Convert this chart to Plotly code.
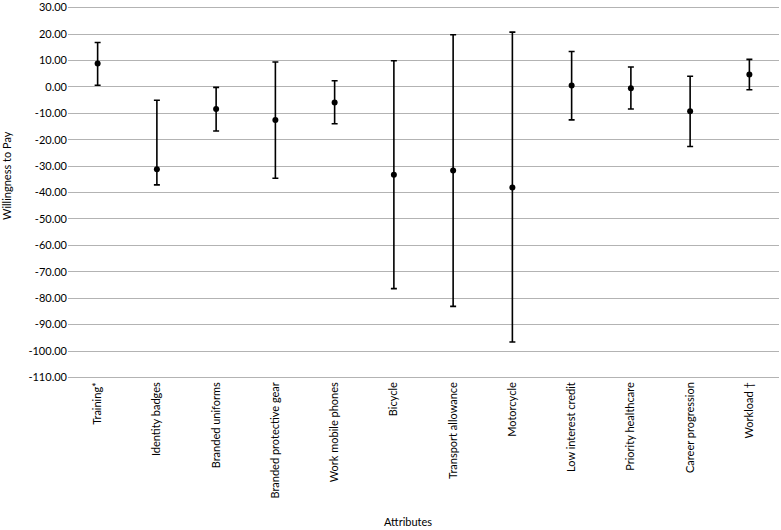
import plotly.graph_objects as go

attributes = ["Training*", "Identity badges", "Branded uniforms", "Branded protective gear",
              "Work mobile phones", "Bicycle", "Transport allowance", "Motorcycle",
              "Low interest credit", "Priority healthcare", "Career progression", "Workload \u2020"]
wtp = [8.8, -31.2, -8.4, -12.6, -5.9, -33.3, -31.7, -38.1, 0.5, -0.5, -9.2, 4.7]
upper = [16.8, -5.1, -0.2, 9.4, 2.3, 9.9, 19.7, 20.7, 13.4, 7.5, 4.0, 10.4]
lower = [0.6, -37.1, -16.7, -34.6, -14.0, -76.4, -83.1, -96.6, -12.5, -8.4, -22.6, -1.1]
y_ticks = list(range(-110, 31, 10))

err_plus = [u - v for u, v in zip(upper, wtp)]
err_minus = [v - l for v, l in zip(wtp, lower)]

font_family = "Lato, Open Sans, sans-serif"
fs = 11

fig = go.Figure(go.Scatter(
    x=attributes, y=wtp, mode="markers",
    marker=dict(color="black", size=6),
    error_y=dict(type="data", symmetric=False, array=err_plus, arrayminus=err_minus,
                 color="black", thickness=1.6, width=3),
    showlegend=False,
))

fig.update_layout(
    width=781, height=530,
    margin=dict(l=68, r=2, t=6, b=151, autoexpand=False),
    paper_bgcolor="white", plot_bgcolor="white",
    font=dict(family=font_family, size=fs, color="black"),
    xaxis=dict(tickangle=-90, showgrid=False, showline=False, ticks="", automargin=False,
               tickfont=dict(size=fs, color="black"), range=[-0.5, 11.5]),
    yaxis=dict(range=[-110.6, 30.6], tickvals=y_ticks, ticktext=[f"{v:.2f}" for v in y_ticks],
               automargin=False, ticklabeloverflow="allow",
               showgrid=True, gridcolor="#b3b3b3", gridwidth=1.2, zeroline=False,
               showline=False, ticks="", tickfont=dict(size=fs, color="black")),
    annotations=[
        dict(text="Willingness to Pay", xref="paper", yref="paper", x=-0.0858, y=0.547,
             textangle=-90, showarrow=False, font=dict(size=fs, color="black"),
             xanchor="center", yanchor="middle"),
        dict(text="Attributes", xref="paper", yref="paper", x=0.478, y=-0.381,
             showarrow=False, font=dict(size=fs, color="black"),
             xanchor="center", yanchor="middle"),
    ],
)

fig.write_html("out.html", config={"displayModeBar": False},
               post_script="document.body.style.margin='0';")
